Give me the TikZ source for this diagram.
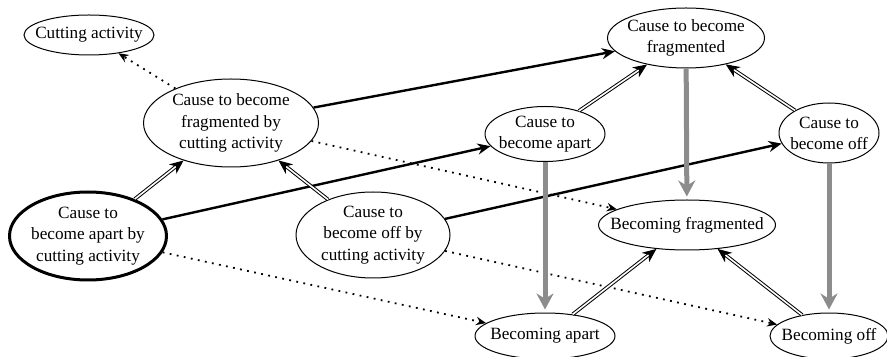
\documentclass[tikz,border=0pt]{standalone}
\usepackage{fontspec}
\setmainfont{Liberation Serif}
\usetikzlibrary{shapes.geometric}
\usetikzlibrary{arrows.meta}

\tikzset{
  frame/.style 2 args={ellipse, draw, line width=0.5pt, inner sep=0pt, minimum width=#1, minimum height=#2},
  txt/.style={align=center, inner sep=0pt, font=\fontsize{8.6}{10.6}\selectfont},
  dotarrow/.style={line width=0.9pt, dash pattern=on 0.9pt off 2.7pt, -{Stealth[length=5pt,width=4.2pt]}},
  boldarrow/.style={line width=1.2pt, -{Stealth[length=6.5pt,width=5.5pt]}},
  grayarrow/.style={draw=black!45, line width=2.5pt, shorten >=1.5pt, -{Stealth[length=8pt,width=8.5pt,fill=black!45]}},
  dblarrow/.style={double, double distance=0.8pt, line width=0.5pt, -{Stealth[length=7pt,width=6pt]}}
}

\begin{document}
\begin{tikzpicture}[x=0.5pt, y=-0.5pt]
\useasboundingbox (0,0) rectangle (887,357);

\node[frame={65pt}{20pt}] (cut) at (89,35) {};
\node[txt] (cut-txt) at (cut) {Cutting activity};
\node[frame={87.5pt}{44pt}] (cfc) at (231,123) {};
\node[txt] (cfc-txt) at (cfc) {Cause to become\\fragmented by\\cutting activity};
\node[frame={78.5pt}{44pt}, line width=1.5pt] (cac) at (88,236) {};
\node[txt] (cac-txt) at (cac) {Cause to\\become apart by\\cutting activity};
\node[frame={77pt}{43pt}] (coc) at (373,235) {};
\node[txt] (coc-txt) at (coc) {Cause to\\become off by\\cutting activity};
\node[frame={78.5pt}{30pt}] (cf) at (686,38) {};
\node[txt] (cf-txt) at (cf) {Cause to become\\fragmented};
\node[frame={60pt}{27.5pt}] (ca) at (545,134) {};
\node[txt] (ca-txt) at (ca) {Cause to\\become apart};
\node[frame={50pt}{30pt}] (co) at (829,133) {};
\node[txt] (co-txt) at (co) {Cause to\\become off};
\node[frame={88.5pt}{25pt}] (bf) at (687,225) {};
\node[txt] (bf-txt) at (bf) {Becoming fragmented};
\node[frame={70pt}{23pt}] (ba) at (545,336) {};
\node[txt] (ba-txt) at (ba) {Becoming apart};
\node[frame={59pt}{23pt}] (bo) at (829,336) {};
\node[txt] (bo-txt) at (bo) {Becoming off};

\draw[dotarrow] (cfc) -- (cut);
\draw[dotarrow] (cfc) -- (bf);
\draw[dotarrow] (cac) -- (ba);
\draw[dotarrow] (coc) -- (bo);

\draw[boldarrow] (cfc) -- (cf);
\draw[boldarrow] (cac) -- (ca);
\draw[boldarrow] (coc) -- (co);

\draw[grayarrow] (cf) -- (bf);
\draw[grayarrow] (ca) -- (ba);
\draw[grayarrow] (co) -- (bo);

\draw[dblarrow] (cac) -- (cfc);
\draw[dblarrow] (coc) -- (cfc);
\draw[dblarrow] (ca) -- (cf);
\draw[dblarrow] (co) -- (cf);
\draw[dblarrow] (ba) -- (bf);
\draw[dblarrow] (bo) -- (bf);
\end{tikzpicture}
\end{document}
